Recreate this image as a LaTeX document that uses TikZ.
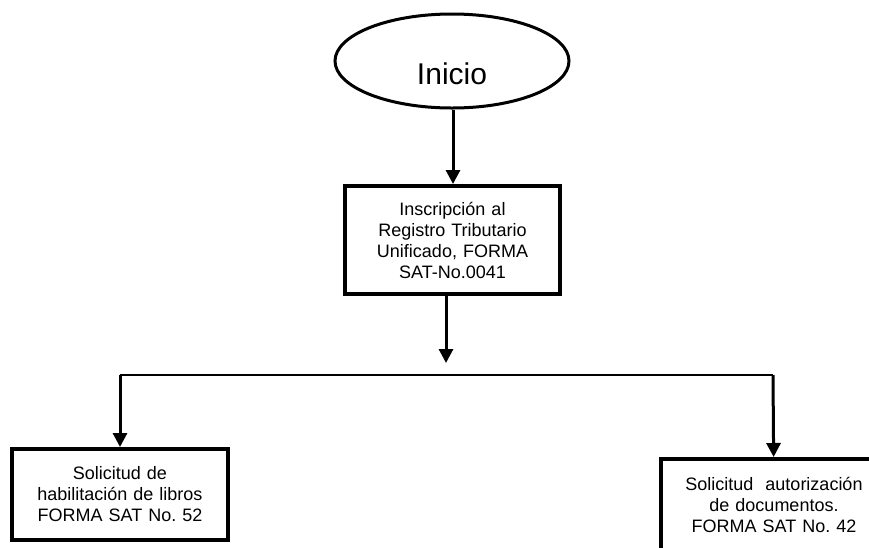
\documentclass[tikz,border=0pt]{standalone}
\usepackage{fontspec}
\setmainfont{Liberation Sans}
\usepackage{tikz}
\usetikzlibrary{shapes,arrows.meta}
\frenchspacing
\tikzset{ovalo/.style={ellipse,draw,line width=3pt,minimum width=234pt,minimum height=94pt,inner sep=0pt,font=\fontsize{30}{34}\selectfont},
caja/.style={rectangle,draw,line width=4pt,align=center,inner sep=0pt,font=\fontsize{18}{21}\selectfont}}

\begin{document}
\begin{tikzpicture}[>={Triangle[width=14pt,length=14pt]},x=1pt,y=-1pt,line width=3pt]
        \useasboundingbox (0,0) rectangle (869,547);
        \node[ovalo] (inicio) at (452,61) {\raisebox{-23.5pt}[0pt][0pt]{Inicio}};
        \node[caja,minimum width=215pt,minimum height=108pt,text width=210pt] (inscrip) at (452.5,240) {Inscripción al\\Registro Tributario\\Unificado, FORMA\\SAT-No.0041};
        \node[caja,minimum width=216pt,minimum height=91pt,text width=210pt] (habil) at (120,494.5) {Solicitud de\\habilitación de libros\\FORMA SAT No. 52};
        \node[caja,minimum width=226pt,minimum height=92pt,text width=220pt] (autor) at (774,505) {Solicitud\ \ autorización\\de documentos.\\FORMA SAT No. 42};

        \coordinate (union) at (446,363);
        \coordinate (barL) at (120,375);
        \coordinate (barR) at (773,375);

        \draw [->] (inicio.south -| 453,0) -- (inscrip.north -| 453,0);
        \draw [->] (inscrip.south -| union) -- (union);
        \draw [line width=2pt] (barL) -- (barR);
        \draw [->] (barL) -- (habil);
        \draw [->] (barR) -- (autor);
    \end{tikzpicture}
\end{document}
